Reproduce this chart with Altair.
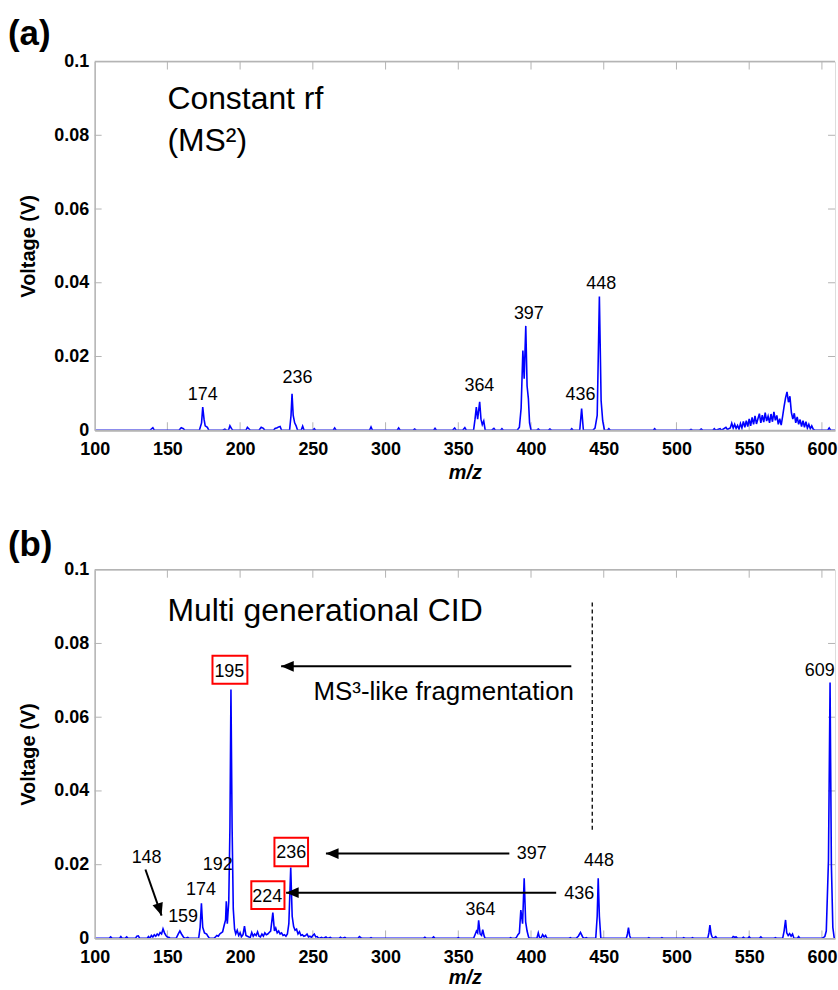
import altair as alt
import pandas as pd

FONT = "Liberation Sans"
BLUE = "#0000FF"
GRAY = "#b4b4b4"
W, H = 743, 370
XDOM = [100, 609]
YDOM = [0, 0.1]

x_label_vals = [100, 150, 200, 250, 300, 350, 400, 450, 500, 550, 600]
x_tick_vals = [150, 200, 250, 300, 350, 400, 450, 500, 550, 600]
y_label_vals = [0, 0.02, 0.04, 0.06, 0.08, 0.1]
y_tick_vals = [0.02, 0.04, 0.06, 0.08]

# ---------------- panel (a) spectrum: Constant rf (MS2) ----------------
mz_a = [100, 138, 140, 141, 158, 159.5, 161, 162, 172, 173.5, 174.3, 175.2, 176, 177.5, 178.5,
        188, 189.5, 190.5, 192, 193, 194, 195, 204, 205, 206, 207, 213, 214.5, 216, 217,
        223, 224, 225.5, 226.5, 227.5, 228.5, 234, 235, 235.7, 236.5, 237.5, 238.5, 239.5,
        242, 243, 244, 250, 251, 252, 264, 265, 266, 289, 290, 291, 308, 309, 310,
        319, 320, 321, 333, 334, 335, 346, 347.5, 348.5, 353, 354.5, 355.5,
        360.5, 361.5, 362.4, 363.3, 364.7, 365.6, 366.5, 367.5, 368.5, 373, 374.5, 375.5,
        379, 380, 381, 390.5, 392, 393.2, 394.4, 395.3, 396.4, 397.3, 398.2, 399, 400,
        404, 405, 406, 412, 413, 414, 427, 428, 429, 433.5, 434.8, 436,
        442.5, 444, 445.5, 447, 448.2, 449.3, 450.5, 452.5, 453.5, 454.5, 484, 485, 486,
        509, 510, 511, 516, 517, 518, 525, 526, 527, 530, 531, 534, 535, 537, 538, 539,
        540, 541, 542, 543, 544, 545, 546, 547, 548, 549, 550, 551, 552, 553, 554, 555,
        556, 557, 558, 559, 560, 561, 562, 563, 564, 565, 566, 567, 568, 569, 570, 571,
        572, 573, 574, 575, 576, 577, 578, 579, 580, 581, 582, 583, 584, 585, 586, 587,
        588, 589, 590, 591, 592, 593, 594, 595, 604, 605, 606, 609]
v_a = [0, 0, 0.0007, 0, 0, 0.0007, 0.0004, 0, 0, 0.002, 0.0063, 0.003, 0.0012, 0.0008, 0,
       0, 0.0003, 0, 0, 0.0012, 0.0005, 0, 0, 0.0008, 0.0004, 0, 0, 0.0008, 0.0005, 0,
       0, 0.0005, 0.0007, 0.0009, 0.001, 0, 0, 0.004, 0.0099, 0.004, 0.002, 0.0012, 0,
       0, 0.0011, 0, 0, 0.0004, 0, 0, 0.0006, 0, 0, 0.0009, 0, 0, 0.0006, 0,
       0, 0.0003, 0, 0, 0.0005, 0, 0, 0.0006, 0, 0, 0.0007, 0,
       0, 0.003, 0.0063, 0.003, 0.0077, 0.003, 0.0015, 0.0025, 0, 0, 0.0005, 0,
       0, 0.0004, 0, 0, 0.0008, 0.006, 0.0216, 0.014, 0.0283, 0.012, 0.0085, 0.002, 0,
       0, 0.0003, 0, 0, 0.0003, 0, 0, 0.0004, 0, 0, 0.0059, 0,
       0, 0.0006, 0.004, 0.0363, 0.008, 0.0025, 0, 0, 0.0004, 0, 0, 0.0004, 0,
       0, 0.0002, 0, 0, 0.0003, 0, 0, 0.0004, 0, 0.0004, 0, 0.0008, 0.0002, 0.0006, 0.0019, 0.0006,
       0.0016, 0.0005, 0.0013, 0.0003, 0.0018, 0.0006, 0.0024, 0.0008, 0.0026, 0.001, 0.0031, 0.0012, 0.0035, 0.0016, 0.0039, 0.0017,
       0.0031, 0.0045, 0.002, 0.0041, 0.0022, 0.0048, 0.0025, 0.0038, 0.002, 0.0044, 0.0023, 0.005, 0.0027, 0.004, 0.0016, 0.0031,
       0.0014, 0.0038, 0.0065, 0.0088, 0.0104, 0.0076, 0.0092, 0.0048, 0.003, 0.0046, 0.002, 0.0036, 0.0016, 0.0029, 0.001, 0.0026,
       0.0008, 0.0023, 0.0006, 0.0016, 0.0004, 0.0012, 0.0003, 0, 0, 0.0006, 0, 0]

lab_a_text = ["174", "236", "364", "397", "436", "448"]
lab_a_mz = [174.3, 239.4, 364.5, 398.5, 434.0, 448.3]
lab_a_v = [0.0095, 0.0141, 0.0119, 0.0315, 0.0095, 0.0396]

note_a_text = ["Constant rf", "(MS\u00b2)"]
note_a_mz = [150, 150]
note_a_v = [0.0899, 0.0785]

# ---------------- panel (b) spectrum: Multi generational CID ----------------
mz_b = [100, 110, 111, 112, 117, 118, 119, 121, 122, 123, 128, 129, 130, 131, 136, 137, 138,
        139, 140, 141, 142, 143, 144, 145, 146, 147, 148, 149, 150, 151, 152,
        156, 157.5, 158.6, 159.7, 161, 162, 164, 165, 171.5, 172.5, 173.4, 174.3, 175.5, 177, 178, 179,
        182, 183, 184, 185, 186, 187, 188, 189, 190, 190.5, 191.2, 192.2, 193, 193.7, 194.5, 195.3,
        196.2, 197, 198, 199, 200, 201, 202, 203, 204, 205, 206, 207, 208, 209, 210, 211, 212, 213,
        214, 215, 216, 217, 218, 219, 220, 221, 222.5, 223.6, 224.5, 225.5, 226.5, 227.5, 228.5,
        229.5, 230.5, 231.5, 232.5, 233.5, 234.8, 235.8, 236.8, 237.8, 238.8, 239.8, 240.8, 241.8,
        242.8, 243.8, 245, 246, 247, 248, 249, 250, 251, 252, 253, 254, 256, 257, 259, 260, 262, 263,
        268, 269, 270, 272, 273, 281, 282, 283, 284, 289, 290, 291, 326, 327, 328, 332, 333, 334,
        349, 350, 351, 360.5, 361.5, 362.5, 363.3, 364, 365, 366, 366.8, 367.8, 368.5, 385, 386, 387,
        389, 390, 391, 392, 393, 394.2, 395.3, 396.3, 397.3, 398.3, 399, 404, 405, 406, 407, 408, 409,
        410, 411, 426, 427, 428, 431, 432.5, 434, 435.5, 436.5, 438, 439, 444.5, 445.5, 446.2, 447, 448,
        465.5, 466.3, 467, 467.8, 468.5, 480, 481, 482, 489, 490, 491, 504, 505, 506, 510, 511, 512,
        521.5, 522.3, 523, 523.8, 524.5, 525.5, 527, 528, 538, 539, 540, 541, 542, 545, 546, 547,
        549, 550, 551, 557, 558, 559, 567, 568, 569, 573, 574, 575, 575.8, 576.8, 577.8, 578.8, 579.8,
        580.8, 583, 584, 585, 600, 602, 603, 604.5, 605.6, 606.5, 607.5, 608.5, 609]
v_b = [0, 0, 0.0004, 0, 0, 0.0005, 0, 0, 0.0004, 0, 0, 0.0006, 0.0007, 0, 0, 0.0005, 0,
       0.0008, 0.0004, 0.001, 0.0006, 0.0012, 0.0008, 0.0016, 0.0012, 0.0026, 0.0015, 0.0008, 0.0004, 0.0003, 0,
       0, 0.0012, 0.002, 0.0012, 0.0004, 0, 0.0003, 0, 0, 0.003, 0.0095, 0.003, 0.0015, 0.0012, 0.0005, 0,
       0, 0.0004, 0.0008, 0.0006, 0.0012, 0.0015, 0.0018, 0.0035, 0.005, 0.0101, 0.004, 0.01, 0.03, 0.0675, 0.03, 0.008,
       0.0025, 0.0012, 0.0022, 0.0008, 0.0015, 0.0005, 0.001, 0.0033, 0.0008, 0.0006, 0.0004, 0.0003, 0.0016, 0.0006, 0.0012, 0.0008, 0.0018, 0.0006,
       0.0004, 0.0012, 0.0006, 0.0015, 0.001, 0.0012, 0.0016, 0.002, 0.007, 0.002, 0.0028, 0.0015, 0.002, 0.0012, 0.0015,
       0.0008, 0.001, 0.0006, 0.0012, 0.004, 0.0192, 0.006, 0.0032, 0.0022, 0.0025, 0.0012, 0.0018, 0.0008,
       0.001, 0.0006, 0.0008, 0.0012, 0.0004, 0.0006, 0.0003, 0.0008, 0.0012, 0.0004, 0.0005, 0, 0.0003, 0, 0.0004, 0, 0.0003, 0,
       0, 0.0003, 0, 0.0003, 0, 0, 0.0005, 0.0002, 0, 0, 0.0002, 0, 0, 0.0003, 0, 0, 0.0004, 0,
       0, 0.0002, 0, 0, 0.001, 0.002, 0.0015, 0.0049, 0.0012, 0.0008, 0.0024, 0.0006, 0, 0, 0.0002, 0,
       0, 0.0003, 0.001, 0.0015, 0.0077, 0.004, 0.0163, 0.0045, 0.002, 0.0004, 0, 0, 0.0015, 0, 0.0002, 0.001, 0.0004,
       0.0008, 0, 0, 0.0002, 0, 0, 0.0006, 0.0016, 0.0004, 0, 0.0002, 0, 0, 0.006, 0.0163, 0.006, 0,
       0, 0.0012, 0.0029, 0.0008, 0, 0, 0.0002, 0, 0, 0.0002, 0, 0, 0.0002, 0, 0, 0.0002, 0,
       0, 0.0015, 0.0036, 0.0012, 0.0004, 0, 0.0005, 0, 0, 0.0005, 0.0003, 0.0004, 0, 0, 0.0003, 0,
       0, 0.0004, 0, 0, 0.0004, 0, 0, 0.0002, 0, 0, 0.002, 0.005, 0.0015, 0.0008, 0.0013, 0.0006, 0.0012,
       0, 0, 0.0005, 0, 0, 0.0005, 0.002, 0.0212, 0.0694, 0.02, 0.003, 0, 0]

lab_b_text = ["148", "159", "174", "192", "195", "224", "236", "364", "397", "436", "448", "609"]
lab_b_mz = [135.7, 160.8, 173.1, 184.6, 192.6, 218.6, 235.1, 365.2, 400.5, 433.2, 446.7, 598.5]
lab_b_v = [0.0219, 0.0059, 0.013, 0.0198, 0.0723, 0.0112, 0.0232, 0.0076, 0.023, 0.0121, 0.021, 0.0726]

box_b_mz = [181.0, 223.6, 207.7]
box_b_mz2 = [205.0, 246.7, 230.5]
box_b_v = [0.0691, 0.0196, 0.0080]
box_b_v2 = [0.0767, 0.0273, 0.0155]

arr_b_mz = [427.7, 385.1, 417.3, 134.9]
arr_b_v = [0.0738, 0.023, 0.0124, 0.0187]
arr_b_tip_mz = [228.2, 259.0, 231.6, 146.0]
arr_b_tip_v = [0.0738, 0.023, 0.0124, 0.0062]
arr_b_angle = [0, 0, 0, 252]

note_b_text = ["Multi generational CID", "MS\u00b3-like fragmentation"]
note_b_mz = [150, 429.5]
note_b_v = [0.0889, 0.0669]
note_b_align = ["left", "right"]
note_b_size = [32, 26]

dash_b_mz = [442.1]
dash_b_v = [0.0295]
dash_b_v2 = [0.0911]


# ---------------- shared encodings ----------------
def make_x(title_pad):
    return alt.X("mz:Q", scale=alt.Scale(domain=XDOM, nice=False, zero=False),
                 axis=alt.Axis(values=x_label_vals, ticks=False, grid=False, labelFont=FONT,
                               labelFontSize=18, labelFontWeight="bold", labelColor="black",
                               labelPadding=10, labelFlush=False, labelOverlap=False,
                               domainColor=GRAY, domainWidth=1.8, zindex=1,
                               title="m/z", titleFont=FONT, titleFontSize=20, titleFontWeight="bold",
                               titleFontStyle="italic", titleColor="black", titlePadding=title_pad))


Y = alt.Y("v:Q", scale=alt.Scale(domain=YDOM, nice=False, zero=True),
          axis=alt.Axis(values=y_label_vals, format=".2~f", ticks=False, grid=False,
                        labelFont=FONT, labelFontSize=18, labelFontWeight="bold",
                        labelColor="black", labelPadding=6, labelFlush=False, labelOverlap=False,
                        domainColor=GRAY, domainWidth=1.5, zindex=1,
                        title="Voltage (V)", titleFont=FONT, titleFontSize=20,
                        titleFontWeight="bold", titleColor="black", titlePadding=15))
X2 = alt.X2("mz2:Q")
Y2 = alt.Y2("v2:Q")


def frame_layers(X):
    dummy = pd.DataFrame({"k": [0]})
    top = alt.Chart(dummy).mark_rule(color=GRAY, strokeWidth=1.5).encode(
        x=alt.value(0), x2=alt.value(W), y=alt.value(0))
    xt = pd.DataFrame({"mz": x_tick_vals})
    yt = pd.DataFrame({"v": y_tick_vals})
    bt = alt.Chart(xt).mark_rule(color=GRAY, strokeWidth=1).encode(x=X, y=alt.value(H), y2=alt.value(H - 8))
    tt = alt.Chart(xt).mark_rule(color=GRAY, strokeWidth=1).encode(x=X, y=alt.value(0), y2=alt.value(8))
    lt = alt.Chart(yt).mark_rule(color=GRAY, strokeWidth=1).encode(y=Y, x=alt.value(0), x2=alt.value(7))
    rt = alt.Chart(yt).mark_rule(color=GRAY, strokeWidth=1).encode(y=Y, x=alt.value(W - 7), x2=alt.value(W))
    return [top, bt, tt, lt, rt]


def spectrum(X, mz, v):
    df = pd.DataFrame({"mz": mz, "v": v})
    return alt.Chart(df).mark_line(color=BLUE, strokeWidth=1.6, clip=True, interpolate="linear").encode(x=X, y=Y)


def peak_labels(X, t, mz, v):
    df = pd.DataFrame({"mz": mz, "v": v, "t": t})
    return alt.Chart(df).mark_text(font=FONT, fontSize=18, color="black", align="center",
                                   baseline="middle").encode(x=X, y=Y, text="t:N")


def tag(label, ty):
    df = pd.DataFrame({"t": [label]})
    return alt.Chart(df).mark_text(font=FONT, fontSize=35, fontWeight="bold", color="black",
                                   align="left", baseline="middle").encode(
        x=alt.value(-87), y=alt.value(ty), text="t:N")


# ---------------- panel (a) ----------------
XA = make_x(4)
notes_a = alt.Chart(pd.DataFrame({"mz": note_a_mz, "v": note_a_v, "t": note_a_text})).mark_text(
    font=FONT, fontSize=32, color="black", align="left", baseline="middle").encode(x=XA, y=Y, text="t:N")

panel_a = alt.layer(
    *frame_layers(XA),
    spectrum(XA, mz_a, v_a),
    peak_labels(XA, lab_a_text, lab_a_mz, lab_a_v),
    notes_a,
    tag("(a)", -28),
).properties(width=W, height=H)

# ---------------- panel (b) ----------------
XB = make_x(1)
boxes = alt.Chart(pd.DataFrame({"mz": box_b_mz, "mz2": box_b_mz2, "v": box_b_v, "v2": box_b_v2})).mark_rect(
    fillOpacity=0, stroke="#ff0000", strokeWidth=2).encode(x=XB, x2=X2, y=Y, y2=Y2)

arr_df = pd.DataFrame({"mz": arr_b_mz, "v": arr_b_v, "mz2": arr_b_tip_mz, "v2": arr_b_tip_v})
arr_lines = alt.Chart(arr_df).mark_rule(color="black", strokeWidth=2).encode(x=XB, x2=X2, y=Y, y2=Y2)
heads_df = pd.DataFrame({"mz": arr_b_tip_mz, "v": arr_b_tip_v, "a": arr_b_angle})
arr_heads = alt.Chart(heads_df).mark_point(
    shape="M0,0L4,-1.7L4,1.7Z", filled=True, color="black", opacity=1, size=40, strokeWidth=0).encode(
    x=XB, y=Y, angle=alt.Angle("a:Q", scale=None))

dash = alt.Chart(pd.DataFrame({"mz": dash_b_mz, "v": dash_b_v, "v2": dash_b_v2})).mark_rule(
    color="black", strokeWidth=1.3, strokeDash=[4, 3]).encode(x=XB, y=Y, y2=Y2)

notes_b_df = pd.DataFrame({"mz": note_b_mz, "v": note_b_v, "t": note_b_text})
notes_b1 = alt.Chart(notes_b_df.iloc[[0]]).mark_text(
    font=FONT, fontSize=note_b_size[0], color="black", align=note_b_align[0], baseline="middle").encode(
    x=XB, y=Y, text="t:N")
notes_b2 = alt.Chart(notes_b_df.iloc[[1]]).mark_text(
    font=FONT, fontSize=note_b_size[1], color="black", align=note_b_align[1], baseline="middle").encode(
    x=XB, y=Y, text="t:N")

panel_b = alt.layer(
    *frame_layers(XB),
    spectrum(XB, mz_b, v_b),
    dash,
    arr_lines,
    arr_heads,
    boxes,
    peak_labels(XB, lab_b_text, lab_b_mz, lab_b_v),
    notes_b1,
    notes_b2,
    tag("(b)", -25),
).properties(width=W, height=H)

chart = alt.vconcat(panel_a, panel_b, spacing=140, bounds="flush").properties(
    padding={"left": 7, "top": 14, "right": 0, "bottom": 0}
).configure_view(stroke=None).configure(font=FONT, background="white")

chart.save("out.html", embed_options={"renderer": "svg", "actions": False})
